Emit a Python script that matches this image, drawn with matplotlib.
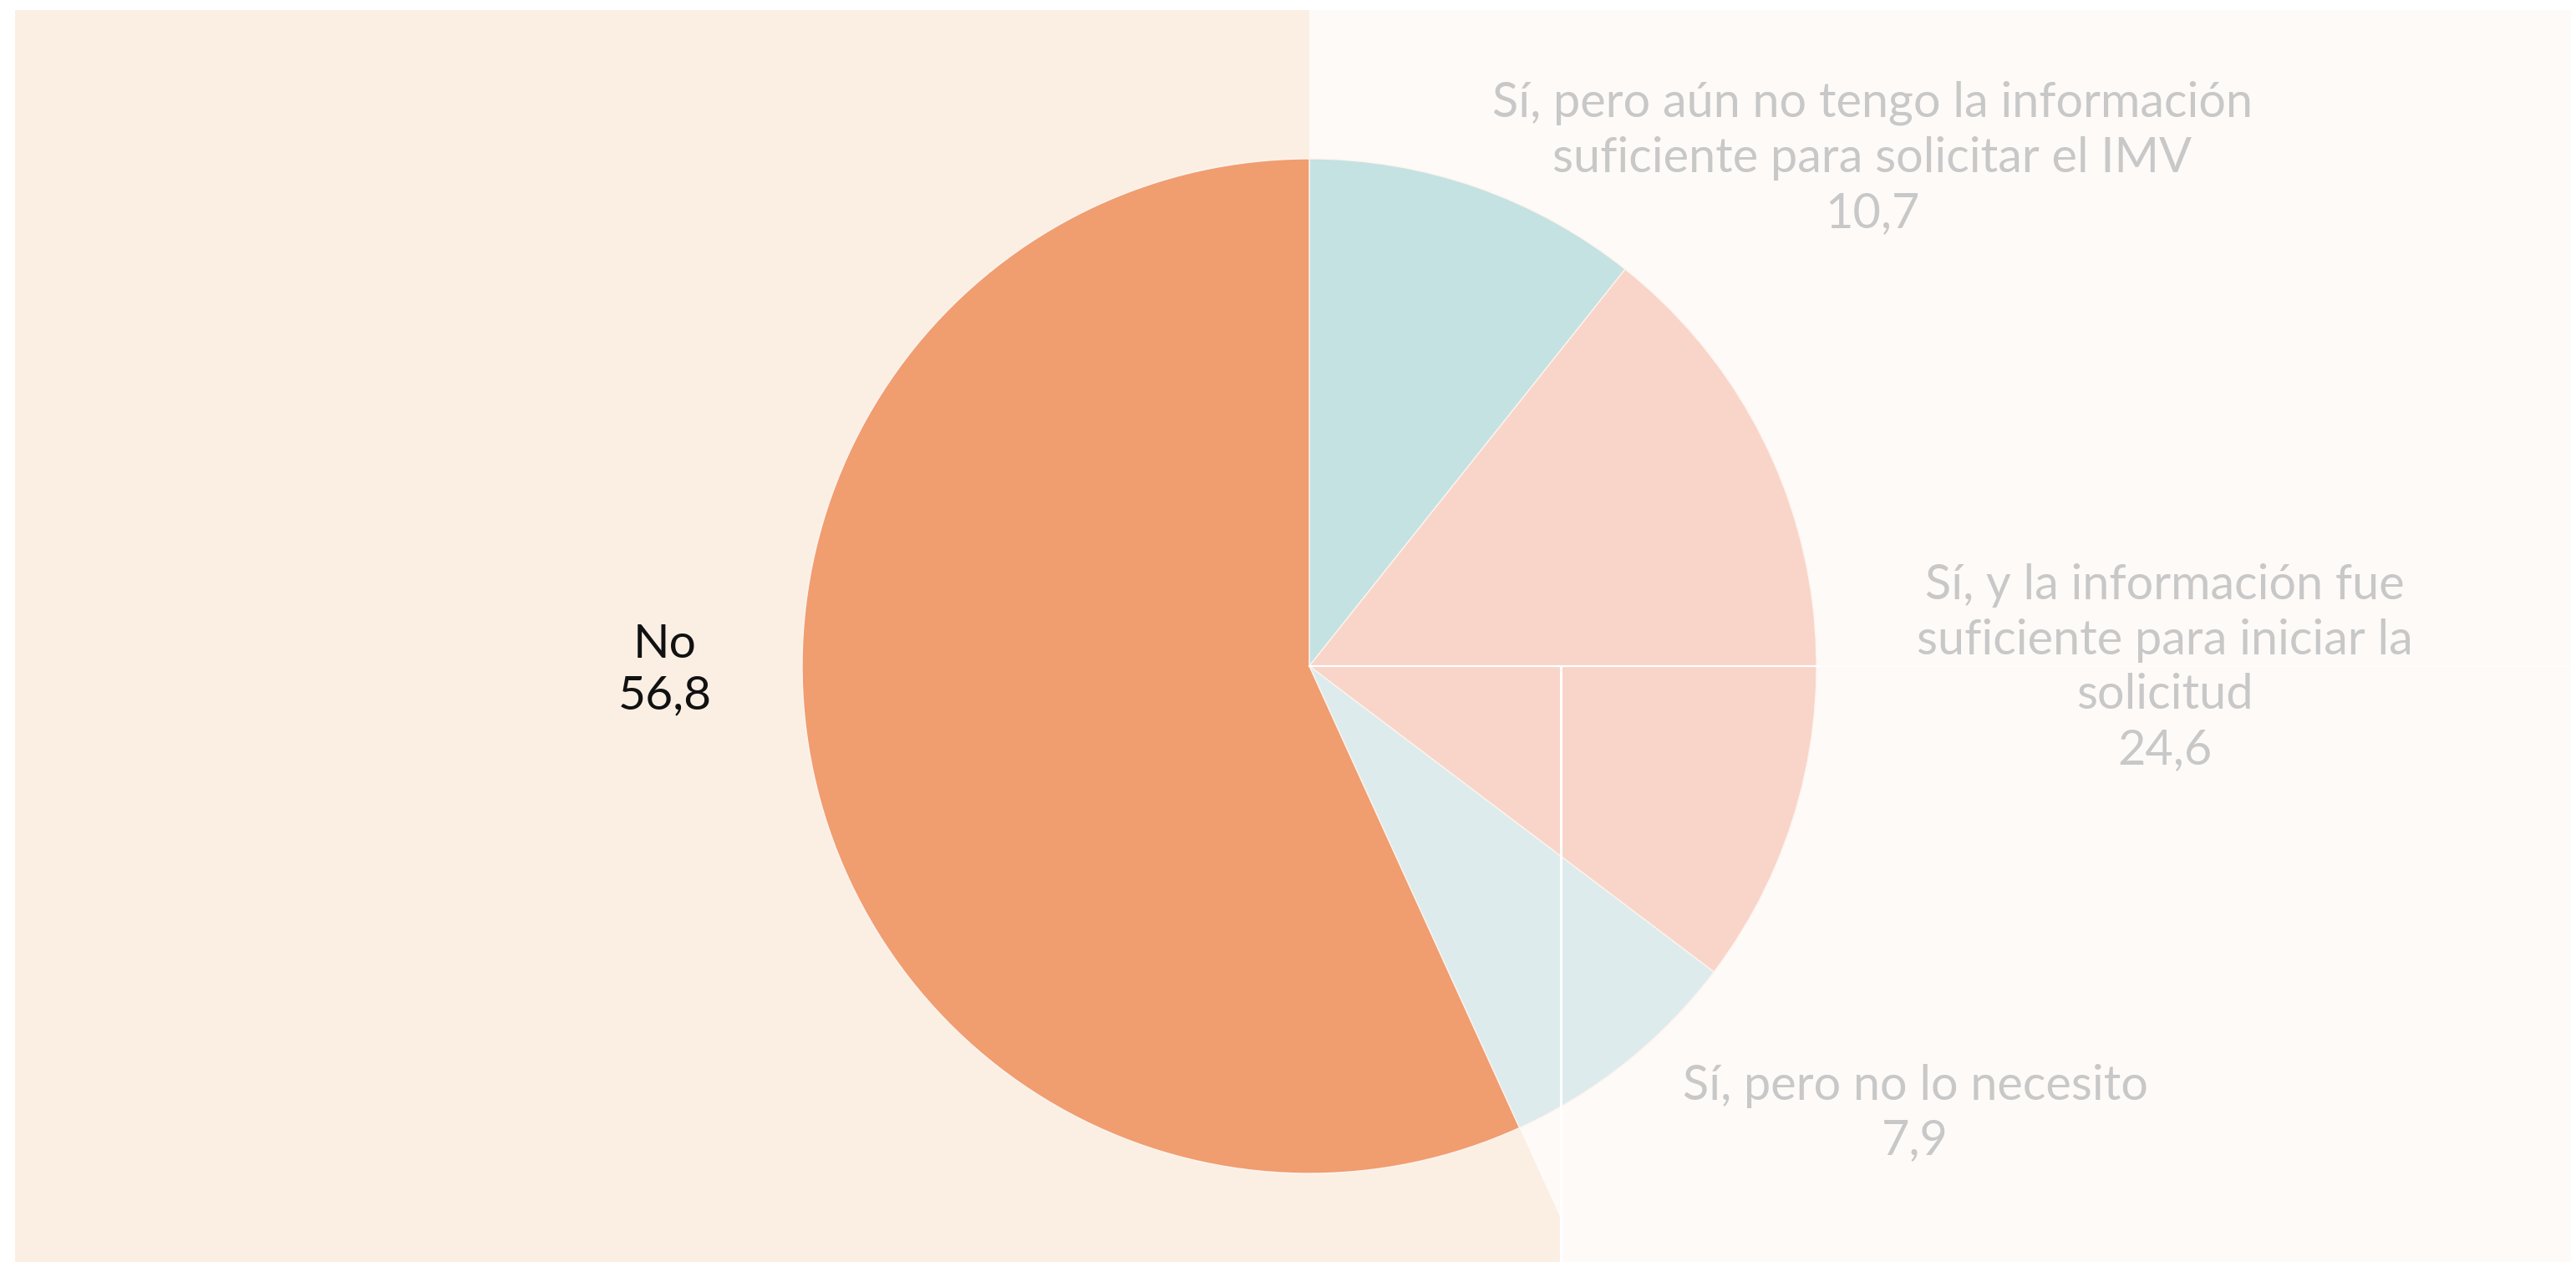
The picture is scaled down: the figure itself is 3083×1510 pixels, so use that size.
import numpy as np
import matplotlib
matplotlib.use("Agg")
import matplotlib.pyplot as plt
from matplotlib.patches import Polygon, Rectangle

plt.rcParams['font.family'] = ['Lato', 'DejaVu Sans']

# data (percentages, clockwise from 12 o'clock)
categories = [
    "Sí, pero aún no tengo la información\nsuficiente para solicitar el IMV",
    "Sí, y la información fue\nsuficiente para iniciar la\nsolicitud",
    "Sí, pero no lo necesito",
    "No",
]
values = [10.7, 24.6, 7.9, 56.8]
colors = ["#c4e2e1", "#f8d5c8", "#ddebec", "#f09d70"]
label_colors = ["#c8c8c8", "#c8c8c8", "#c8c8c8", "#111111"]

# layout in pixels (figure 3083 x 1510, y measured from bottom)
W, H = 3083, 1510
cx, cy = 1567, 713
radius = 607
split_x = 1868
label_pos = [(2241, 1321), (2591, 711), (2292, 178), (796, 708)]
label_size = [41.5, 41.5, 41.5, 41]
label_spacing = [1.3, 1.3, 1.3, 1.25]

fig = plt.figure(figsize=(W / 100, H / 100), dpi=100)
fig.patch.set_facecolor("white")
ax = fig.add_axes([0, 0, 1, 1])

# light background panel
ax.add_patch(Rectangle((18, 0), W - 24, H - 12, facecolor="#fefaf7",
                       edgecolor="none", zorder=0))

# peach background: the "No" sector widened out, cut at split_x
start = sum(values[:3]) / sum(values) * 360
ang = np.deg2rad(90 - start)
ray_y = cy + (split_x - cx) * np.tan(ang)
peach = Polygon([(18, H - 12), (cx, H - 12), (cx, cy), (split_x, ray_y),
                 (split_x, 0), (18, 0)], closed=True,
                facecolor="#fbefe4", edgecolor="none", zorder=1)
ax.add_patch(peach)

wedges, _ = ax.pie(values, colors=colors, startangle=90, counterclock=False,
                   center=(cx, cy), radius=radius, frame=True,
                   wedgeprops=dict(edgecolor="#fdf4ef", linewidth=1))
for w in wedges:
    w.set_zorder(2)
ax.set_xlim(0, W)
ax.set_ylim(0, H)
ax.set_aspect("equal")
ax.axis("off")

# white guide lines
ax.plot([cx, cx + radius], [cy, cy], color="white", lw=1.6, zorder=3)
ax.plot([cx + radius, W - 6], [cy, cy], color="white", lw=1.0, zorder=3)
ax.plot([split_x, split_x], [cy, 0], color="white", lw=2.2, zorder=3)

for cat, v, (lx, ly), c, fs, ls in zip(categories, values, label_pos,
                                       label_colors, label_size, label_spacing):
    txt = cat + "\n" + f"{v:.1f}".replace(".", ",")
    ax.text(lx, ly, txt, ha="center", va="center", fontsize=fs,
            color=c, linespacing=ls, zorder=4)

fig.savefig("out.png", dpi=100, facecolor=fig.get_facecolor())
